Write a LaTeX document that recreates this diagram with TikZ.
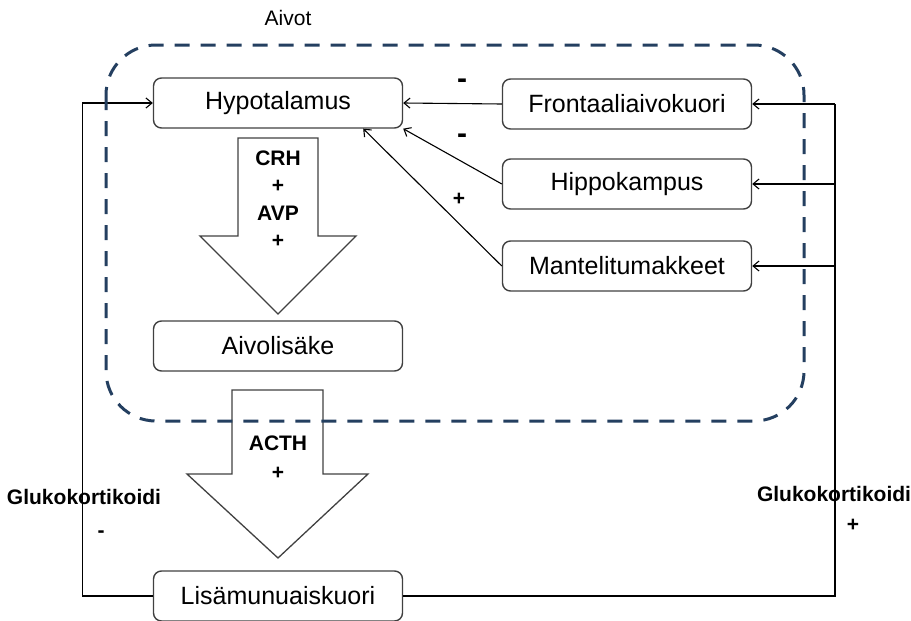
\documentclass[tikz,border=0pt]{standalone}
\usepackage{fontspec}
\usetikzlibrary{arrows.meta}
\setmainfont{Liberation Sans}
\definecolor{aivoblue}{RGB}{36,63,96}
\begin{document}
\begin{tikzpicture}[
    x=1pt, y=-1pt,
    font=\fontsize{25}{30}\selectfont
]
	\tikzset{
	    boxnode/.style = {rectangle, rounded corners=8pt, draw=black!75, line width=1.4pt, minimum width=249pt, minimum height=50pt, inner sep=0pt},
	    bigarrow/.style = {draw=black!75, line width=1.3pt, line join=miter},
	    edgen/.style = {-{Straight Barb[length=6pt,width=10pt]}, line width=1.1pt},
	    lbl/.style = {font=\fontsize{21}{25}\selectfont\bfseries, inner sep=0pt},
	    sgn/.style = {font=\fontsize{21}{25}\selectfont, inner sep=0pt}
	}
	\useasboundingbox (0,0) rectangle (911,621);
	\node[boxnode] at (278,103) (hypo) {Hypotalamus};
	\node[boxnode] at (627,104) (front) {Frontaaliaivokuori};
	\node[boxnode] at (627,184) (hippo) {Hippokampus};
	\node[boxnode] at (627,266) (mantel) {Mantelitumakkeet};
	\node[boxnode] at (278,346) (aivol) {Aivolisäke};
	\node[boxnode] at (278,596) (lisa) {Lisämunuaiskuori};
	% block arrows
	\draw[bigarrow] (238,138) -- (318,138) -- (318,236) -- (356,236) -- (278,314) -- (200,236) -- (238,236) -- cycle;
	\draw[bigarrow] (232,390) -- (323,390) -- (323,474) -- (368,474) -- (278,558) -- (187,474) -- (232,474) -- cycle;
	\node[lbl] (crh) at (278,158) {CRH};
	\node[lbl] (p1) at (278,186) {+};
	\node[lbl] (avp) at (278,213) {AVP};
	\node[lbl] (p2) at (278,241) {+};
	\node[lbl] (acth) at (278,443) {ACTH};
	\node[lbl] (p3) at (278,473) {+};
	% inputs to hypotalamus
	\draw[edgen] (front.west) -- (hypo.east);
	\draw[edgen] (hippo.west) -- (hypo.south east);
	\draw[edgen] (mantel.west) -- ([xshift=-40pt]hypo.south east);
	\node[lbl, font=\fontsize{30}{30}\selectfont\bfseries] (m1) at (462,84) {-};
	\node[lbl, font=\fontsize{30}{30}\selectfont\bfseries] (m2) at (462,139) {-};
	\node[lbl] (p4) at (459,199) {+};
	% feedback
	\draw[edgen] (lisa.west) -- ++(-70,0) |- (hypo.west);
	\coordinate (rt) at (835,104);
	\draw[line width=1.1pt] (lisa.east) -| (rt);
	\draw[edgen] (rt) -- (front.east);
	\draw[edgen] (rt|-hippo) -- (hippo.east);
	\draw[edgen] (rt|-mantel) -- (mantel.east);
	\node[lbl] (gl) at (84,497) {Glukokortikoidi};
	\node[lbl] (m3) at (101,534) {-};
	\node[lbl] (gr) at (834,494) {Glukokortikoidi};
	\node[lbl] (p5) at (853,525) {+};
	% brain
	\draw[aivoblue, line width=3pt, dash pattern=on 15pt off 11pt, rounded corners=50pt] (106,45) rectangle (804,421);
	\node[sgn] (aivot) at (288,18) {Aivot};
\end{tikzpicture}
\end{document}
